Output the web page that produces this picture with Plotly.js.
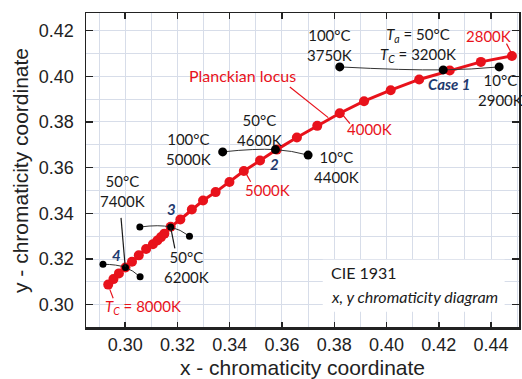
<!DOCTYPE html>
<html>
<head>
<meta charset="utf-8">
<script src="https://cdn.plot.ly/plotly-3.0.1.min.js"></script>
<style>html,body{margin:0;padding:0;background:#fff;}#chart{width:522px;height:379px;}</style>
</head>
<body>
<div id="chart"></div>
<script>
// Planckian locus points (8000K -> 2800K)
const planckX = [0.2935,0.2955,0.2976,0.3001,0.3026,0.3052,0.3080,0.3106,0.3123,0.3137,0.3150,0.3174,0.3211,0.3255,0.3298,0.3346,0.3399,0.3454,0.3516,0.3580,0.3657,0.3735,0.3821,0.3914,0.4016,0.4125,0.4242,0.4361,0.4480];
const planckY = [0.3088,0.3112,0.3137,0.3163,0.3188,0.3216,0.3244,0.3265,0.3281,0.3296,0.3311,0.3341,0.3373,0.3417,0.3456,0.3493,0.3537,0.3585,0.3631,0.3679,0.3732,0.3783,0.3838,0.3891,0.3939,0.3986,0.4025,0.4063,0.4089];
// Measured cases: [100°C, 50°C, 10°C]
const case1X = [0.3821,0.4217,0.4431];
const case1Y = [0.4041,0.4028,0.4041];
const case2X = [0.3373,0.3575,0.3700];
const case2Y = [0.3669,0.3679,0.3655];
const case3X = [0.3056,0.3174,0.3246];
const case3Y = [0.3340,0.3340,0.3300];
const case4X = [0.2915,0.3001,0.3057];
const case4Y = [0.3177,0.3163,0.3122];
const xTicks = [0.30,0.32,0.34,0.36,0.38,0.40,0.42,0.44];
const yTicks = [0.30,0.32,0.34,0.36,0.38,0.40,0.42];

const RED = '#e8121b';
const NAVY = '#1f3a6e';
const DARK = '#1a1a1a';
const AF = 'Lato, "Noto Sans", sans-serif';
const GRID = '#d7dde9';

function caseTrace(x, y, size) {
  return {x: x, y: y, type: 'scatter', mode: 'lines+markers',
    line: {color: '#333', width: 1, shape: 'spline', smoothing: 1.3},
    marker: {color: '#000', size: size}, hoverinfo: 'skip'};
}

const traces = [
  {x: planckX, y: planckY, type: 'scatter', mode: 'lines+markers',
   line: {color: RED, width: 3}, marker: {color: RED, size: 10}, hoverinfo: 'skip'},
  caseTrace(case1X, case1Y, 9),
  caseTrace(case2X, case2Y, 9),
  caseTrace(case3X, case3Y, 7),
  caseTrace(case4X, case4Y, 7)
];

function lbl(text, x, y, color, size, extra) {
  return Object.assign({text: text, x: x, y: y, xref: 'x', yref: 'y', showarrow: false,
    font: {family: AF, size: size, color: color}}, extra || {});
}
function lead(x0, y0, x1, y1, color) {
  return {type: 'line', xref: 'x', yref: 'y', x0: x0, y0: y0, x1: x1, y1: y1,
    line: {color: color, width: 1.2}, layer: 'above'};
}
const deg = '°C';

const annotations = [
  lbl('Planckian locus', 0.3450, 0.4004, RED, 16),
  lbl('4000K', 0.3936, 0.3770, RED, 15),
  lbl('2800K', 0.4391, 0.4175, RED, 15),
  lbl('5000K', 0.3546, 0.3502, RED, 15),
  lbl('<i>T<sub>C</sub></i> = 8000K', 0.3070, 0.2991, RED, 15),
  lbl('100' + deg + '<br>3750K', 0.3783, 0.4138, DARK, 15),
  lbl('<i>T<sub>a</sub></i> = 50' + deg + '<br><i>T<sub>C</sub></i> = 3200K', 0.4120, 0.4138, DARK, 15),
  lbl('10' + deg + '<br>2900K', 0.4437, 0.3939, DARK, 15),
  lbl('<b><i>Case 1</i></b>', 0.4238, 0.3968, NAVY, 15),
  lbl('50' + deg + '<br>4600K', 0.3515, 0.3766, DARK, 15),
  lbl('100' + deg + '<br>5000K', 0.3244, 0.3681, DARK, 15),
  lbl('10' + deg + '<br>4400K', 0.3810, 0.3601, DARK, 15),
  lbl('<b><i>2</i></b>', 0.3573, 0.3618, NAVY, 15),
  lbl('50' + deg + '<br>7400K', 0.2991, 0.3498, DARK, 15),
  lbl('<b><i>3</i></b>', 0.3178, 0.3417, NAVY, 15),
  lbl('50' + deg + '<br>6200K', 0.3236, 0.3163, DARK, 15),
  lbl('<b><i>4</i></b>', 0.2967, 0.3217, NAVY, 15),
  lbl('CIE 1931', 0.3780, 0.3142, DARK, 16, {xanchor: 'left'}),
  lbl('<i>x, y chromaticity diagram</i>', 0.3780, 0.3035, DARK, 16, {xanchor: 'left'})
];

const shapes = [
  {type: 'rect', xref: 'x', yref: 'y', x0: 0.3756, x1: 0.4452, y0: 0.2969, y1: 0.3197,
   fillcolor: '#fff', line: {width: 0}, layer: 'between'},
  lead(0.3630, 0.3953, 0.3777, 0.3819, RED),
  lead(0.3834, 0.3829, 0.3860, 0.3793, RED),
  lead(0.4459, 0.4143, 0.4478, 0.4102, RED),
  lead(0.3461, 0.3577, 0.3480, 0.3538, RED),
  lead(0.2941, 0.3067, 0.2954, 0.3028, RED),
  lead(0.2984, 0.3380, 0.3000, 0.3166, DARK),
  lead(0.3174, 0.3338, 0.3190, 0.3247, DARK),
  {type: 'line', xref: 'paper', yref: 'paper', x0: 0, x1: 1, y0: 0, y1: 0,
   line: {color: '#222', width: 2.2}, layer: 'above'}
];

const tickFont = {family: '"Liberation Sans", Arial, sans-serif', size: 18, color: '#222'};
const layout = {
  width: 522, height: 379,
  margin: {l: 86, r: 3, t: 13, b: 51},
  paper_bgcolor: '#fff', plot_bgcolor: '#fff',
  showlegend: false,
  xaxis: {
    range: [0.2850, 0.4507], tickvals: xTicks, ticktext: xTicks.map(v => v.toFixed(2)),
    ticks: 'inside', ticklen: 6, tickcolor: '#222', tickwidth: 1.5,
    showline: true, linecolor: '#222', linewidth: 1.5, mirror: 'allticks',
    showgrid: true, gridcolor: GRID, gridwidth: 1,
    minor: {dtick: 0.01, tick0: 0.30, showgrid: true, gridcolor: GRID, gridwidth: 1, ticks: ''},
    tickfont: tickFont, zeroline: false,
    title: {text: 'x - chromaticity coordinate', standoff: 8,
      font: {family: '"Liberation Sans", Arial, sans-serif', size: 21, color: '#222'}}
  },
  yaxis: {
    range: [0.2898, 0.4277], tickvals: yTicks, ticktext: yTicks.map(v => v.toFixed(2)),
    ticks: 'inside', ticklen: 7, tickcolor: '#222', tickwidth: 1.5,
    showline: true, linecolor: '#222', linewidth: 1.5, mirror: 'allticks',
    showgrid: true, gridcolor: GRID, gridwidth: 1,
    minor: {dtick: 0.01, tick0: 0.30, showgrid: true, gridcolor: GRID, gridwidth: 1, ticks: ''},
    tickfont: tickFont, zeroline: false, ticklabelstandoff: 7,
    title: {text: 'y - chromaticity coordinate', standoff: 4,
      font: {family: '"Liberation Sans", Arial, sans-serif', size: 21, color: '#222'}}
  },
  annotations: annotations,
  shapes: shapes
};

Plotly.newPlot('chart', traces, layout, {displayModeBar: false, staticPlot: true});
</script>
</body>
</html>
